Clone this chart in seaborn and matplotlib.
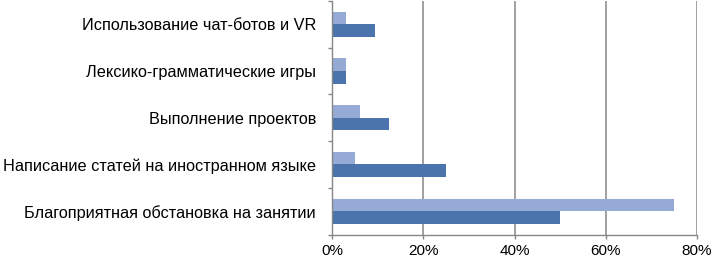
import matplotlib
matplotlib.use('Agg')
import matplotlib.pyplot as plt
import seaborn as sns
import pandas as pd
import numpy as np
from matplotlib.ticker import PercentFormatter

# categories, top to bottom as in the picture
categories = ['Использование чат-ботов и VR',
              'Лексико-грамматические игры',
              'Выполнение проектов',
              'Написание статей на иностранном языке',
              'Благоприятная обстановка на занятии']
# two series (light bar drawn above the dark one)
series_names = ['Ряд 2', 'Ряд 1']
light_values = [3.1, 3.1, 6.2, 5.0, 75.0]
dark_values = [9.4, 3.0, 12.5, 25.0, 50.0]
x_ticks = [0, 20, 40, 60, 80]

colors = ['#95abd5', '#4a74ab']
gray = '#868686'


def build_frame():
	rows = []
	for cat, lv, dv in zip(categories, light_values, dark_values):
		rows.append({'Категория': cat, 'Ряд': series_names[0], 'Значение': lv})
		rows.append({'Категория': cat, 'Ряд': series_names[1], 'Значение': dv})
	return pd.DataFrame(rows)


def main():
	sns.set_style('white')
	plt.rcParams['font.family'] = ['Liberation Sans', 'DejaVu Sans']
	plt.rcParams['font.size'] = 11

	data = build_frame()
	fig = plt.figure(figsize=(7.13, 2.61), dpi=100)
	ax = fig.add_axes([332 / 713, 26.5 / 261, 365 / 713, 233.5 / 261])

	sns.barplot(data=data, y='Категория', x='Значение', hue='Ряд',
	            order=categories, hue_order=series_names, palette=colors,
	            orient='h', width=0.54, saturation=1, linewidth=0,
	            legend=False, ax=ax)

	ax.set_xlim(0, 80)
	ax.set_ylim(4.5, -0.5)
	ax.set_xticks(x_ticks)
	ax.xaxis.set_major_formatter(PercentFormatter(decimals=0))
	ax.set_xlabel('')
	ax.set_ylabel('')

	# vertical gridlines
	for v in x_ticks[1:]:
		ax.axvline(v, color=gray, linewidth=1.1, zorder=0)

	for side in ['top', 'right']:
		ax.spines[side].set_visible(False)
	for side in ['left', 'bottom']:
		ax.spines[side].set_color(gray)
		ax.spines[side].set_linewidth(1.0)

	# category separators as minor ticks on the y axis
	ax.set_yticks(np.arange(-0.5, 5, 1), minor=True)
	ax.tick_params(axis='y', which='major', length=0, pad=11.5, labelcolor='black',
	               labelsize=11.7)
	ax.tick_params(axis='y', which='minor', left=True, length=3, color=gray, width=1)
	ax.tick_params(axis='x', which='major', bottom=True, length=3, color=gray, width=1,
	               pad=4, labelcolor='black', labelsize=11)

	fig.savefig('out.png', dpi=100)
	plt.close(fig)


if __name__ == '__main__':
	main()
